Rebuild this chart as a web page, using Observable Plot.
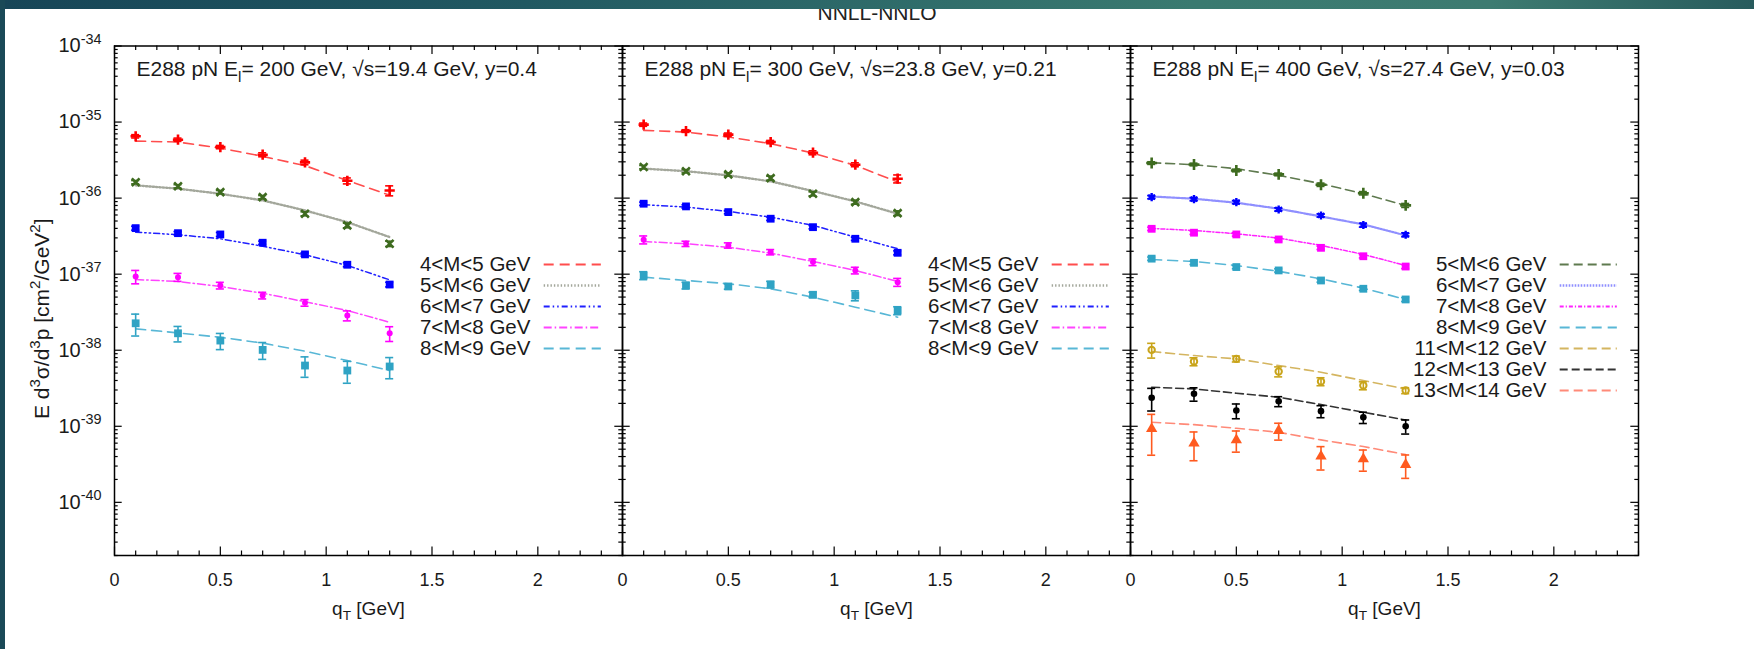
<!DOCTYPE html>
<html><head><meta charset="utf-8">
<script src="https://cdn.jsdelivr.net/npm/d3@7"></script>
<script src="https://cdn.jsdelivr.net/npm/@observablehq/plot@0.6"></script>
<style>
body{margin:0;background:#fff;}
#wrap{position:relative;width:1754px;height:649px;overflow:hidden;background:#fff;font-family:"Liberation Sans",Arial,sans-serif;}
#band{position:absolute;left:0;top:0;width:1754px;height:9px;z-index:3;
 background:linear-gradient(to right,#174557 0%,#215962 30%,#3a7a70 68%,#3d7b71 85%,#285b5d 100%);}
#strip{position:absolute;left:0;top:0;width:5px;height:649px;background:#1a4957;z-index:3;}
#title{position:absolute;top:2px;left:0;width:1754px;text-align:center;font-size:21px;line-height:21px;color:#222;z-index:2;}
#chart{position:absolute;left:0;top:0;z-index:1;}
</style></head>
<body>
<div id="wrap">
  <div id="chart"></div>
  <div id="title">NNLL-NNLO</div>
  <div id="band"></div>
  <div id="strip"></div>
</div>
<script>
// ---------------- data ----------------
const qT = [0.1, 0.3, 0.5, 0.7, 0.9, 1.1, 1.3];
const panels = ["p1", "p2", "p3"];
const panelTitles = [
  "E288 pN E_{l}= 200 GeV, √s=19.4 GeV, y=0.4",
  "E288 pN E_{l}= 300 GeV, √s=23.8 GeV, y=0.21",
  "E288 pN E_{l}= 400 GeV, √s=27.4 GeV, y=0.03"
];
const xTickLabels = [0, 0.5, 1, 1.5, 2];
const yDecades = [1e-34, 1e-35, 1e-36, 1e-37, 1e-38, 1e-39, 1e-40];

// panel 1 : E = 200 GeV
const p1_m45    = [6.5e-36, 5.86e-36, 4.69e-36, 3.72e-36, 2.95e-36, 1.69e-36, 1.26e-36];
const p1_m45_e  = [0.05, 0.05, 0.05, 0.06, 0.07, 0.09, 0.15];
const p1_m45_th = [5.62e-36, 5.46e-36, 4.55e-36, 3.54e-36, 2.67e-36, 1.71e-36, 1.09e-36];
const p1_m56    = [1.62e-36, 1.43e-36, 1.20e-36, 1.03e-36, 6.23e-37, 4.38e-37, 2.51e-37];
const p1_m56_e  = [0.05, 0.05, 0.05, 0.05, 0.06, 0.07, 0.08];
const p1_m56_th = [1.47e-36, 1.33e-36, 1.14e-36, 9.33e-37, 6.89e-37, 4.83e-37, 3.07e-37];
const p1_m67    = [4.03e-37, 3.46e-37, 3.33e-37, 2.59e-37, 1.82e-37, 1.33e-37, 7.31e-38];
const p1_m67_e  = [0.06, 0.05, 0.06, 0.05, 0.05, 0.06, 0.07];
const p1_m67_th = [3.57e-37, 3.30e-37, 2.92e-37, 2.33e-37, 1.80e-37, 1.30e-37, 8.43e-38];
const p1_m78    = [9.33e-38, 9.14e-38, 7.10e-38, 5.25e-38, 4.21e-38, 2.86e-38, 1.67e-38];
const p1_m78_e  = [0.20, 0.12, 0.10, 0.10, 0.10, 0.15, 0.22];
const p1_m78_th = [8.51e-38, 8.01e-38, 6.89e-38, 5.62e-38, 4.34e-38, 3.33e-38, 2.33e-38];
const p1_m89    = [2.26e-38, 1.67e-38, 1.34e-38, 1.01e-38, 6.29e-39, 5.41e-39, 6.11e-39];
const p1_m89_e  = [0.32, 0.23, 0.24, 0.25, 0.30, 0.32, 0.31];
const p1_m89_th = [1.91e-38, 1.69e-38, 1.48e-38, 1.24e-38, 9.70e-39, 7.31e-39, 5.41e-39];

// panel 2 : E = 300 GeV
const p2_m45    = [9.25e-36, 7.62e-36, 6.83e-36, 5.46e-36, 3.95e-36, 2.75e-36, 1.80e-36];
const p2_m45_e  = [0.05, 0.04, 0.05, 0.05, 0.06, 0.06, 0.12];
const p2_m45_th = [7.78e-36, 7.38e-36, 6.35e-36, 5.20e-36, 3.91e-36, 2.69e-36, 1.63e-36];
const p2_m56    = [2.56e-36, 2.26e-36, 2.05e-36, 1.83e-36, 1.14e-36, 8.85e-37, 6.35e-37];
const p2_m56_e  = [0.05, 0.05, 0.05, 0.06, 0.06, 0.06, 0.07];
const p2_m56_th = [2.44e-36, 2.26e-36, 1.99e-36, 1.66e-36, 1.24e-36, 9.05e-37, 6.23e-37];
const p2_m67    = [8.44e-37, 7.78e-37, 6.55e-37, 5.36e-37, 4.15e-37, 2.92e-37, 1.91e-37];
const p2_m67_e  = [0.05, 0.05, 0.05, 0.05, 0.05, 0.05, 0.06];
const p2_m67_th = [8.18e-37, 7.62e-37, 6.68e-37, 5.62e-37, 4.38e-37, 3.07e-37, 2.16e-37];
const p2_m78    = [2.84e-37, 2.51e-37, 2.39e-37, 1.95e-37, 1.44e-37, 1.12e-37, 7.85e-38];
const p2_m78_e  = [0.12, 0.08, 0.08, 0.08, 0.10, 0.10, 0.12];
const p2_m78_th = [2.69e-37, 2.51e-37, 2.26e-37, 1.89e-37, 1.47e-37, 1.12e-37, 8.01e-38];
const p2_m89    = [9.62e-38, 7.10e-38, 6.89e-38, 7.31e-38, 5.36e-38, 5.25e-38, 3.33e-38];
const p2_m89_e  = [0.12, 0.10, 0.08, 0.10, 0.08, 0.15, 0.12];
const p2_m89_th = [9.14e-38, 8.26e-38, 7.48e-38, 6.43e-38, 4.98e-38, 3.68e-38, 2.72e-38];

// panel 3 : E = 400 GeV
const p3_m56    = [2.89e-36, 2.77e-36, 2.31e-36, 2.05e-36, 1.50e-36, 1.16e-36, 8.02e-37];
const p3_m56_e  = [0.04, 0.04, 0.04, 0.04, 0.05, 0.05, 0.06];
const p3_m56_th = [2.92e-36, 2.75e-36, 2.44e-36, 1.99e-36, 1.55e-36, 1.14e-36, 8.02e-37];
const p3_m67    = [1.03e-36, 9.70e-37, 8.85e-37, 7.10e-37, 5.92e-37, 4.42e-37, 3.30e-37];
const p3_m67_e  = [0.05, 0.05, 0.05, 0.05, 0.05, 0.06, 0.06];
const p3_m67_th = [1.05e-36, 9.82e-37, 8.69e-37, 7.26e-37, 5.74e-37, 4.51e-37, 3.23e-37];
const p3_m78    = [3.95e-37, 3.51e-37, 3.33e-37, 2.86e-37, 2.22e-37, 1.72e-37, 1.26e-37];
const p3_m78_e  = [0.05, 0.05, 0.05, 0.05, 0.05, 0.05, 0.06];
const p3_m78_th = [3.99e-37, 3.76e-37, 3.40e-37, 2.98e-37, 2.39e-37, 1.82e-37, 1.30e-37];
const p3_m89    = [1.60e-37, 1.41e-37, 1.24e-37, 1.12e-37, 8.26e-38, 6.43e-38, 4.65e-38];
const p3_m89_e  = [0.05, 0.05, 0.05, 0.05, 0.05, 0.05, 0.06];
const p3_m89_th = [1.56e-37, 1.47e-37, 1.30e-37, 1.09e-37, 8.69e-38, 6.55e-38, 4.65e-38];
const p3_m1112    = [1.01e-38, 7.10e-39, 7.70e-39, 5.25e-39, 3.88e-39, 3.43e-39, 2.95e-39];
const p3_m1112_e  = [0.22, 0.12, 0.09, 0.15, 0.12, 0.12, 0.09];
const p3_m1112_th = [9.61e-39, 8.51e-39, 7.70e-39, 6.29e-39, 5.14e-39, 3.99e-39, 3.10e-39];
const p3_m1213    = [2.37e-39, 2.67e-39, 1.61e-39, 2.13e-39, 1.58e-39, 1.31e-39, 1.00e-39];
const p3_m1213_e  = [0.33, 0.20, 0.22, 0.15, 0.18, 0.17, 0.21];
const p3_m1213_th = [3.26e-39, 3.10e-39, 2.72e-39, 2.41e-39, 1.93e-39, 1.53e-39, 1.21e-39];
const p3_m1314    = [9.25e-40, 5.97e-40, 6.62e-40, 8.77e-40, 4.03e-40, 3.72e-40, 3.13e-40];
const p3_m1314_e  = [0.55, 0.41, 0.31, 0.25, 0.34, 0.31, 0.34];
const p3_m1314_th = [1.13e-39, 1.05e-39, 9.42e-40, 8.34e-40, 6.62e-40, 5.41e-40, 4.25e-40];

// ---------------- styles ----------------
const ST = {
  red:    {color:"#ff0000", sym:"plus",     r:3.4, sw:2.6, line:"#ff4d4d", dash:"10,6",            lw:1.6},
  grey:   {color:"#3e6b1f", sym:"times",    r:3.6, sw:2.6, line:"#a3a79b", dash:"1.4,2",           lw:2.4},
  blue:   {color:"#0000ff", sym:"square",   r:4.4, sw:0,   line:"#2020ff", dash:"6,3,1.5,3,1.5,3", lw:1.5},
  mag:    {color:"#ff00ff", sym:"circle",   r:3.0, sw:0,   line:"#ff44ff", dash:"8,3,1.5,3",       lw:1.5},
  cyan:   {color:"#2fa3c4", sym:"square",   r:4.4, sw:0,   line:"#58b7d6", dash:"10,6",            lw:1.6},
  green3: {color:"#3e6b1f", sym:"plus",     r:3.6, sw:2.6, line:"#5f7a4f", dash:"9,5",             lw:1.6},
  blue3:  {color:"#0000ff", sym:"asterisk", r:3.8, sw:2.4, line:"#8f8fff", dash:"1.6,1.4",         lw:2.2},
  mag3:   {color:"#ff00ff", sym:"square",   r:4.4, sw:0,   line:"#ff22ff", dash:"4,2,1.2,2",       lw:1.5},
  gold:   {color:"#c9a41a", sym:"circle",   r:3.2, sw:2,   open:true, line:"#d4b560", dash:"9,5",  lw:1.6},
  black:  {color:"#000000", sym:"circle",   r:3.3, sw:0,   line:"#333333", dash:"8,4",             lw:1.6},
  orange: {color:"#ff5a1f", sym:"triangle", r:4.2, sw:0,   line:"#ff8a78", dash:"9,5",             lw:1.6}
};
const STROKE_SYMS = new Set(["plus","times","asterisk"]);

const series = [
  {panel:"p1", label:"4<M<5 GeV",   data:p1_m45,  err:p1_m45_e,  th:p1_m45_th,  st:ST.red},
  {panel:"p1", label:"5<M<6 GeV",   data:p1_m56,  err:p1_m56_e,  th:p1_m56_th,  st:ST.grey},
  {panel:"p1", label:"6<M<7 GeV",   data:p1_m67,  err:p1_m67_e,  th:p1_m67_th,  st:ST.blue},
  {panel:"p1", label:"7<M<8 GeV",   data:p1_m78,  err:p1_m78_e,  th:p1_m78_th,  st:ST.mag},
  {panel:"p1", label:"8<M<9 GeV",   data:p1_m89,  err:p1_m89_e,  th:p1_m89_th,  st:ST.cyan},
  {panel:"p2", label:"4<M<5 GeV",   data:p2_m45,  err:p2_m45_e,  th:p2_m45_th,  st:ST.red},
  {panel:"p2", label:"5<M<6 GeV",   data:p2_m56,  err:p2_m56_e,  th:p2_m56_th,  st:ST.grey},
  {panel:"p2", label:"6<M<7 GeV",   data:p2_m67,  err:p2_m67_e,  th:p2_m67_th,  st:ST.blue},
  {panel:"p2", label:"7<M<8 GeV",   data:p2_m78,  err:p2_m78_e,  th:p2_m78_th,  st:ST.mag},
  {panel:"p2", label:"8<M<9 GeV",   data:p2_m89,  err:p2_m89_e,  th:p2_m89_th,  st:ST.cyan},
  {panel:"p3", label:"5<M<6 GeV",   data:p3_m56,  err:p3_m56_e,  th:p3_m56_th,  st:ST.green3},
  {panel:"p3", label:"6<M<7 GeV",   data:p3_m67,  err:p3_m67_e,  th:p3_m67_th,  st:ST.blue3},
  {panel:"p3", label:"7<M<8 GeV",   data:p3_m78,  err:p3_m78_e,  th:p3_m78_th,  st:ST.mag3},
  {panel:"p3", label:"8<M<9 GeV",   data:p3_m89,  err:p3_m89_e,  th:p3_m89_th,  st:ST.cyan},
  {panel:"p3", label:"11<M<12 GeV", data:p3_m1112,err:p3_m1112_e,th:p3_m1112_th,st:ST.gold},
  {panel:"p3", label:"12<M<13 GeV", data:p3_m1213,err:p3_m1213_e,th:p3_m1213_th,st:ST.black},
  {panel:"p3", label:"13<M<14 GeV", data:p3_m1314,err:p3_m1314_e,th:p3_m1314_th,st:ST.orange}
];

// ---------------- layout ----------------
const W = 1754, H = 649;
const mL = 112.6, mR = 115, mT = 45.5, mB = 94;
const yDomain = [2e-41, 1e-34];
const innerH = H - mT - mB;
const facetW = (W - mL - mR) / 3;
const pxPerDecade = innerH / (Math.log10(yDomain[1]) - Math.log10(yDomain[0]));
const yAt = px => Math.pow(10, Math.log10(yDomain[1]) - (px - mT) / pxPerDecade);
const CAP = 0.019;
const FONT = "Liberation Sans, Arial, sans-serif";

const xMinor = d3.range(0, 24.01, 1).map(i => i / 10).filter(v => Math.abs(v * 2 - Math.round(v * 2)) > 1e-6);
const xMajor = [0, 0.5, 1, 1.5, 2];
const yMinor = [];
for (let e = -41; e <= -35; e++) for (let k = 2; k <= 9; k++) { const v = k * Math.pow(10, e); if (v >= yDomain[0] && v <= yDomain[1]) yMinor.push(v); }

const marks = [];
// ticks (gnuplot style, inward, on all four sides)
marks.push(Plot.tickX(xMinor, {x: d => d, insetTop: innerH - 4.5, strokeWidth: 1.2}));
marks.push(Plot.tickX(xMajor, {x: d => d, insetTop: innerH - 8.5, strokeWidth: 1.2}));
marks.push(Plot.tickX(xMinor, {x: d => d, insetBottom: innerH - 4.5, strokeWidth: 1.2}));
marks.push(Plot.tickX(xMajor, {x: d => d, insetBottom: innerH - 8.5, strokeWidth: 1.2}));
marks.push(Plot.tickY(yMinor, {y: d => d, insetRight: facetW - 4.5, strokeWidth: 1.2}));
marks.push(Plot.tickY(yDecades, {y: d => d, insetRight: facetW - 8.5, strokeWidth: 1.2}));
marks.push(Plot.tickY(yMinor, {y: d => d, insetLeft: facetW - 4.5, strokeWidth: 1.2}));
marks.push(Plot.tickY(yDecades, {y: d => d, insetLeft: facetW - 8.5, strokeWidth: 1.2}));

// series
const counters = {p1:0, p2:0, p3:0};
for (const s of series) {
  const st = s.st;
  const rows = qT.map((q, i) => ({panel: s.panel, q, v: s.data[i],
    lo: s.data[i] * (1 - s.err[i]), hi: s.data[i] * (1 + s.err[i]), t: s.th[i]}));
  marks.push(Plot.line(rows, {x: "q", y: "t", fx: "panel", stroke: st.line, strokeWidth: st.lw, strokeDasharray: st.dash}));
  marks.push(Plot.ruleX(rows, {x: "q", y1: "lo", y2: "hi", fx: "panel", stroke: st.color, strokeWidth: 1.6}));
  marks.push(Plot.ruleY(rows, {y: "lo", x1: d => d.q - CAP, x2: d => d.q + CAP, fx: "panel", stroke: st.color, strokeWidth: 1.6}));
  marks.push(Plot.ruleY(rows, {y: "hi", x1: d => d.q - CAP, x2: d => d.q + CAP, fx: "panel", stroke: st.color, strokeWidth: 1.6}));
  const strokeSym = STROKE_SYMS.has(st.sym) || st.open;
  marks.push(Plot.dot(rows, {x: "q", y: "v", fx: "panel", symbol: st.sym, r: st.r,
    fill: strokeSym ? "none" : st.color, stroke: strokeSym ? st.color : "none", strokeWidth: st.sw || 1}));
  // legend entry
  const i = counters[s.panel]++;
  const ly = yAt(264 + 21 * i);
  marks.push(Plot.text([s], {x: 1.965, y: ly, text: d => d.label, fx: d => d.panel, textAnchor: "end",
    fontSize: 20.5, fill: "#1a1a1a", fontFamily: FONT}));
  marks.push(Plot.ruleY([s], {y: ly, x1: 2.03, x2: 2.30, fx: d => d.panel, stroke: st.line, strokeWidth: st.lw + 0.3, strokeDasharray: st.dash}));
}

// panel titles
marks.push(Plot.text(panels.map((p, i) => ({panel: p, title: panelTitles[i]})), {
  fx: "panel", text: "title", frameAnchor: "top-left", dx: 22, dy: 23, lineAnchor: "middle",
  textAnchor: "start", fontSize: 21, fill: "#1a1a1a", fontFamily: FONT}));

// axes
marks.push(Plot.axisX({ticks: xTickLabels, tickSize: 0, tickPadding: 18, tickFormat: d => String(d),
  fontSize: 18, label: null, fontFamily: FONT, fill: "#1a1a1a"}));
marks.push(Plot.axisY({ticks: yDecades, tickSize: 0, tickPadding: 13,
  tickFormat: d => "10^{" + Math.round(Math.log10(d)) + "}", fontSize: 20, label: null, fontFamily: FONT, fill: "#1a1a1a"}));
marks.push(Plot.text(["q_{T} [GeV]"], {text: d => d, frameAnchor: "bottom", dy: 53, lineAnchor: "middle",
  fontSize: 19, fill: "#1a1a1a", fontFamily: FONT}));
marks.push(Plot.text(["E d^{3}σ/d^{3}p [cm^{2}/GeV^{2}]"], {text: d => d, fx: () => "p1", frameAnchor: "left",
  rotate: -90, dx: -72, dy: 18, textAnchor: "middle", lineAnchor: "middle", fontSize: 21, fill: "#1a1a1a", fontFamily: FONT}));
marks.push(Plot.frame({stroke: "black", strokeWidth: 1.5}));

const chart = Plot.plot({
  width: W, height: H,
  marginLeft: mL, marginRight: mR, marginTop: mT, marginBottom: mB,
  x: {domain: [0, 2.4]},
  y: {type: "log", domain: yDomain},
  fx: {domain: panels, axis: null, paddingInner: 0, paddingOuter: 0},
  style: {fontFamily: FONT, background: "transparent", color: "black"},
  marks
});

// rich text: ^{..} superscript, _{..} subscript
const NS = "http://www.w3.org/2000/svg";
chart.querySelectorAll("text").forEach(t => {
  const s = t.textContent;
  if (!/[_^]\{/.test(s)) return;
  const fsAttr = t.getAttribute("font-size") || (t.parentNode && t.parentNode.getAttribute && t.parentNode.getAttribute("font-size"));
  const fs = parseFloat(fsAttr) || 18;
  while (t.firstChild) t.removeChild(t.firstChild);
  const re = /([_^])\{([^}]*)\}/g;
  let last = 0, m, pend = 0;
  const add = (txt, dy, size) => {
    if (!txt) return;
    const ts = document.createElementNS(NS, "tspan");
    ts.textContent = txt;
    if (dy) ts.setAttribute("dy", dy);
    if (size) ts.setAttribute("font-size", size);
    t.appendChild(ts);
  };
  while ((m = re.exec(s))) {
    const chunk = s.slice(last, m.index);
    add(chunk, pend ? pend.toFixed(1) : null, null); if (chunk) pend = 0;
    const shift = m[1] === "^" ? -0.42 * fs : 0.3 * fs;
    add(m[2], (pend + shift).toFixed(1), (0.72 * fs).toFixed(1));
    pend = -shift;
    last = re.lastIndex;
  }
  const rest = s.slice(last);
  if (rest) add(rest, pend ? pend.toFixed(1) : null, null);
});

document.getElementById("chart").appendChild(chart);
</script>
</body></html>
